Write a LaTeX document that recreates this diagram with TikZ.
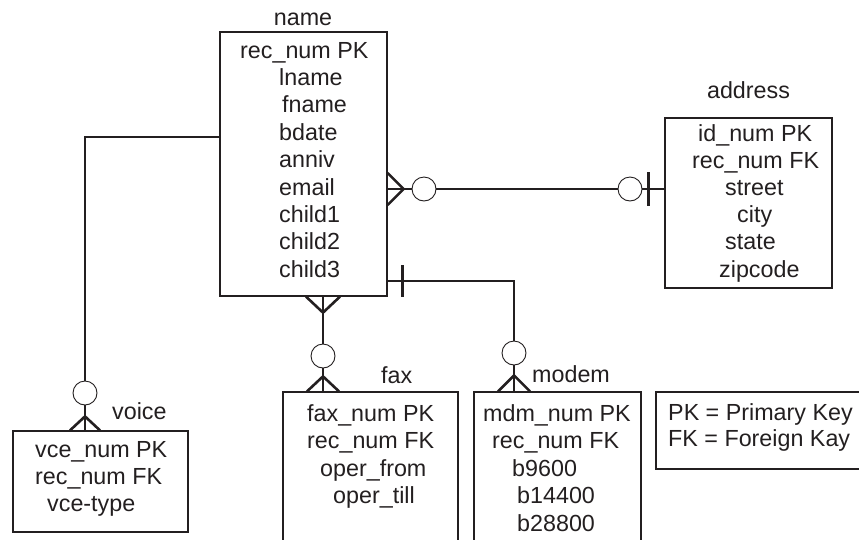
\documentclass[tikz,border=0pt]{standalone}
\usepackage{fontspec}
\setmainfont{Liberation Sans}
\usetikzlibrary{calc}
\definecolor{ink}{HTML}{231F20}
\begin{document}
\begin{tikzpicture}[x=1pt,y=-1pt,
  txt/.style={anchor=base west, inner sep=0pt, text=ink, font=\fontsize{23.3}{28}\selectfont},
  ttl/.style={anchor=base, inner sep=0pt, text=ink, font=\fontsize{23.3}{28}\selectfont},
  box/.style={draw=ink, line width=1.2pt, inner sep=0pt},
  rel/.style={draw=ink, line width=2.6pt},
  circ/.style={circle, draw=ink, line width=0.9pt, fill=white, inner sep=0pt, minimum size=24pt}]
\useasboundingbox (0,0) rectangle (859,539);
\clip (0,0) rectangle (859,539);

% entity boxes
\node[box, minimum width=167, minimum height=264] (name) at (303.5,164) {};
\node[box, minimum width=167, minimum height=170] (address) at (748.5,203) {};
\node[box, minimum width=175, minimum height=101] (voice) at (100.5,481.5) {};
\node[box, minimum width=175, minimum height=168] (fax) at (370.5,476) {};
\node[box, minimum width=167, minimum height=168] (modem) at (557.5,476) {};
\node[box, minimum width=214, minimum height=77] (legend) at (763,430.5) {};

% titles
\node[ttl] (tname) at (303,25) {name};
\node[ttl] (taddress) at (748.5,98) {address};
\node[txt] (tvoice) at (112,419) {voice};
\node[txt] (tfax) at (381,383) {fax};
\node[txt] (tmodem) at (532,382) {modem};

% name attributes
\node[txt] (n1) at (240,58) {rec\_num PK};
\node[txt] (n2) at (279,85.4) {lname};
\node[txt] (n3) at (282,112.8) {fname};
\node[txt] (n4) at (279,140.2) {bdate};
\node[txt] (n5) at (279,167.6) {anniv};
\node[txt] (n6) at (279,195) {email};
\node[txt] (n7) at (279,222.4) {child1};
\node[txt] (n8) at (279,249.8) {child2};
\node[txt] (n9) at (279,277.2) {child3};

% address attributes
\node[txt] (a1) at (698,141) {id\_num PK};
\node[txt] (a2) at (692,168.2) {rec\_num FK};
\node[txt] (a3) at (725,195.4) {street};
\node[txt] (a4) at (737,222.6) {city};
\node[txt] (a5) at (725,249.8) {state};
\node[txt] (a6) at (719,277) {zipcode};

% voice attributes
\node[txt] (v1) at (35,457) {vce\_num PK};
\node[txt] (v2) at (35,484) {rec\_num FK};
\node[txt] (v3) at (47,511) {vce-type};

% fax attributes
\node[txt] (f1) at (307,421) {fax\_num PK};
\node[txt] (f2) at (307,448.5) {rec\_num FK};
\node[txt] (f3) at (320,476) {oper\_from};
\node[txt] (f4) at (333,503.5) {oper\_till};

% modem attributes
\node[txt] (m1) at (483,421) {mdm\_num PK};
\node[txt] (m2) at (492,448.5) {rec\_num FK};
\node[txt] (m3) at (512,476) {b9600};
\node[txt] (m4) at (517,503.5) {b14400};
\node[txt] (m5) at (517,531) {b28800};

% legend
\node[txt] (l1) at (668,420) {PK = Primary Key};
\node[txt] (l2) at (668,446) {FK = Foreign Kay};

% optionality circles
\node[circ] (ca1) at (424,189) {};
\node[circ] (ca2) at (630,189) {};
\node[circ] (cv) at (85,393) {};
\node[circ] (cf) at (323,356) {};
\node[circ] (cm) at (514,353) {};

% name -- voice
\draw[rel] ([yshift=27pt]name.west) -| (cv.north);
\coordinate (vf) at (cv.south |- voice.north);
\draw[rel] (cv.south) -- (vf);
\draw[rel] ($(vf)+(-15,0)$) -- ($(vf)+(0,-14)$) -- ($(vf)+(15,0)$);

% name -- address
\coordinate (ae) at ([yshift=-25pt]name.east);
\draw[rel] (ae) -- (ca1.west);
\draw[rel] ($(ae)+(0,-16)$) -- ($(ae)+(16,0)$) -- ($(ae)+(0,16)$);
\draw[rel] (ca1.east) -- (ca2.west);
\coordinate (ab) at (ca2.east -| address.west);
\draw[rel] (ca2.east) -- (ab);
\draw[rel] ($(ab)+(-16,-17)$) -- ($(ab)+(-16,17)$);

% name -- fax
\coordinate (ff) at (cf.north |- name.south);
\draw[rel] (ff) -- (cf.north);
\draw[rel] ($(ff)+(-17,0)$) -- ($(ff)+(0,16)$) -- ($(ff)+(17,0)$);
\coordinate (ft) at (cf.south |- fax.north);
\draw[rel] (cf.south) -- (ft);
\draw[rel] ($(ft)+(-16,0)$) -- ($(ft)+(0,-15)$) -- ($(ft)+(16,0)$);

% name -- modem
\coordinate (mb) at ([yshift=-117pt]name.east);
\draw[rel] (mb) -| (cm.north);
\draw[rel] ($(mb)+(15,-16)$) -- ($(mb)+(15,16)$);
\coordinate (mt) at (cm.south |- modem.north);
\draw[rel] (cm.south) -- (mt);
\draw[rel] ($(mt)+(-16,0)$) -- ($(mt)+(0,-16)$) -- ($(mt)+(16,0)$);
\end{tikzpicture}
\end{document}
